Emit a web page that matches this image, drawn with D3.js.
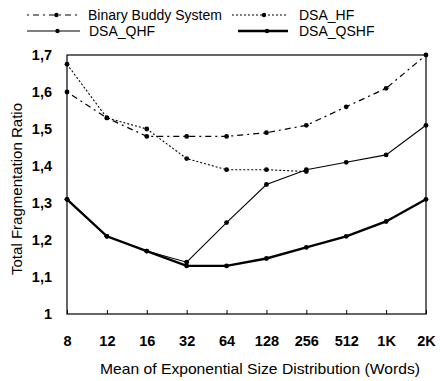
<!DOCTYPE html>
<html><head><meta charset="utf-8">
<script src="https://cdn.jsdelivr.net/npm/d3@7"></script>
<style>body{margin:0;background:#fff}svg{display:block}text{font-family:"Liberation Sans",Arial,sans-serif;fill:#000}</style>
</head><body><svg id="c" width="440" height="381"></svg>
<script>
const categories = ["8","12","16","32","64","128","256","512","1K","2K"];
const binaryBuddy = [1.60,1.53,1.48,1.48,1.48,1.49,1.51,1.56,1.61,1.70];
const dsaHF      = [1.675,1.53,1.50,1.42,1.39,1.39,1.385];
const dsaQHF     = [1.31,1.21,1.17,1.14,1.247,1.35,1.39,1.41,1.43,1.51];
const dsaQSHF    = [1.31,1.21,1.17,1.13,1.13,1.15,1.18,1.21,1.25,1.31];
const yTicks = [1,1.1,1.2,1.3,1.4,1.5,1.6,1.7];

const svg = d3.select("#c");
const L=67,R=426,T=55,B=314;
const x = d3.scalePoint().domain(categories).range([L,R]);
const y = d3.scaleLinear().domain([1,1.7]).range([B,T]);

// frame
svg.append("rect").attr("x",L).attr("y",T).attr("width",R-L).attr("height",B-T)
  .attr("fill","none").attr("stroke","#000").attr("stroke-width",1.2);

// x axis ticks (inward)
const xa = svg.append("g").attr("transform",`translate(0,${B})`)
  .call(d3.axisBottom(x).tickSize(-4).tickPadding(22));
xa.select(".domain").remove();
xa.selectAll("line").attr("stroke","#000");
xa.selectAll("text").attr("font-size",14.5).attr("font-weight","bold").attr("fill","#000").style("font-family","'Liberation Sans',Arial,sans-serif");

// y axis labels
const ya = svg.append("g").attr("transform",`translate(${L},0)`)
  .call(d3.axisLeft(y).tickValues(yTicks).tickSize(0).tickPadding(15)
    .tickFormat(d=>d3.format(".1~f")(d).replace(".",",")));
ya.select(".domain").remove();
ya.selectAll("text").attr("font-size",14.5).attr("font-weight","bold").attr("fill","#000").style("font-family","'Liberation Sans',Arial,sans-serif");

// series
const series = [
  {name:"Binary Buddy System", vals:binaryBuddy, dash:"2,4,6,4", w:1.2},
  {name:"DSA_HF", vals:dsaHF, dash:"2,2", w:1.1},
  {name:"DSA_QHF", vals:dsaQHF, dash:null, w:1.1},
  {name:"DSA_QSHF", vals:dsaQSHF, dash:null, w:2.4}
];
const line = d3.line().x((d,i)=>x(categories[i])).y(d=>y(d));
series.forEach(s=>{
  svg.append("path").datum(s.vals).attr("d",line).attr("fill","none")
    .attr("stroke","#000").attr("stroke-width",s.w).attr("stroke-dasharray",s.dash);
  svg.selectAll(null).data(s.vals).enter().append("circle")
    .attr("cx",(d,i)=>x(categories[i])).attr("cy",d=>y(d)).attr("r",2.4).attr("fill","#000");
});

// legend
const leg = [
  {s:series[0], x0:27,x1:78, tx:88, ty:15},
  {s:series[1], x0:232,x1:288, tx:299, ty:15},
  {s:series[2], x0:27,x1:80, tx:89, ty:31},
  {s:series[3], x0:238,x1:288, tx:299, ty:31}
];
leg.forEach(l=>{
  svg.append("line").attr("x1",l.x0).attr("x2",l.x1).attr("y1",l.ty).attr("y2",l.ty)
    .attr("stroke","#000").attr("stroke-width",l.s.w).attr("stroke-dasharray",l.s.dash);
  svg.append("circle").attr("cx",(l.x0+l.x1)/2+4).attr("cy",l.ty).attr("r",2.2).attr("fill","#000");
  svg.append("text").attr("x",l.tx).attr("y",l.ty+5).attr("font-size",14).text(l.s.name);
});

// titles
svg.append("text").attr("x",260).attr("y",374).attr("text-anchor","middle")
  .attr("font-size",15).attr("textLength",320).attr("lengthAdjust","spacingAndGlyphs")
  .text("Mean of Exponential Size Distribution (Words)");
svg.append("text").attr("transform",`translate(22,189) rotate(-90)`).attr("text-anchor","middle")
  .attr("font-size",14.5).attr("textLength",172).attr("lengthAdjust","spacingAndGlyphs")
  .text("Total Fragmentation Ratio");
</script></body></html>
